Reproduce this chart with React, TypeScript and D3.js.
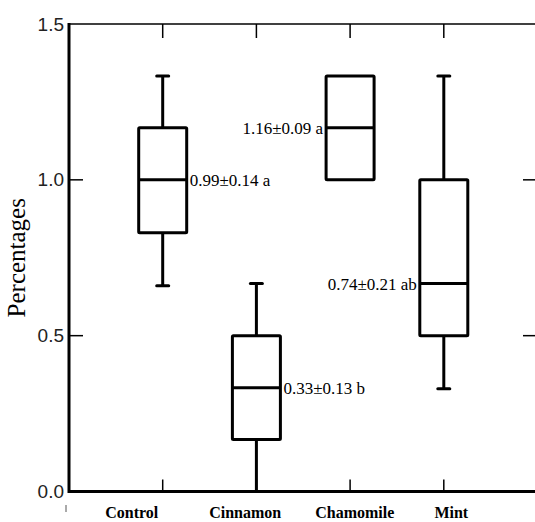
import React from "react";
import * as d3 from "d3";

const categories = ["Control", "Cinnamon", "Chamomile", "Mint"];
const whiskerLow = [0.66, 0, 1.0, 0.33];
const q1 = [0.83, 0.167, 1.0, 0.5];
const median = [1.0, 0.333, 1.167, 0.667];
const q3 = [1.167, 0.5, 1.333, 1.0];
const whiskerHigh = [1.333, 0.667, 1.333, 1.333];
const statLabels = ["0.99±0.14 a", "0.33±0.13 b", "1.16±0.09 a", "0.74±0.21 ab"];
const statSide = ["right", "right", "left", "left"];
// category label centres, in x-axis units (they sit a bit off the ticks in the original)
const catLabelPos = [0.67, 1.88, 3.05, 4.08];
const yTicks = [0, 0.5, 1.0, 1.5];

const W = 535;
const H = 522;

const App = () => {
  const x = d3.scaleLinear().domain([0, 5]).range([69, 537.5]);
  const y = d3.scaleLinear().domain([0, 1.5]).range([491.5, 24]);
  const boxW = 48;
  const capW = 12;
  const serif = "'Liberation Serif', 'Times New Roman', serif";
  const sans = "'Liberation Sans', Arial, sans-serif";

  return (
    <svg
      width={W}
      height={H}
      style={{ position: "absolute", left: 0, top: 0, background: "#fff" }}
    >
      {/* frame */}
      <line x1={x(0)} x2={x(5)} y1={y(1.5)} y2={y(1.5)} stroke="#000" strokeWidth={1.5} />
      <line x1={x(0)} x2={x(0)} y1={y(1.5) - 1} y2={y(0) + 1.5} stroke="#000" strokeWidth={3} />
      <line x1={x(0)} x2={x(5)} y1={y(0)} y2={y(0)} stroke="#000" strokeWidth={3} />

      {/* y ticks left + right */}
      {yTicks.map(t => (
        <g key={"yt" + t}>
          {t > 0 && t < 1.5 && (
            <>
              <line x1={x(0)} x2={x(0) + 14} y1={y(t)} y2={y(t)} stroke="#000" strokeWidth={1.5} />
              <line x1={523} x2={x(5)} y1={y(t)} y2={y(t)} stroke="#000" strokeWidth={1.5} />
            </>
          )}
          <text
            x={x(0) - 5}
            y={y(t)}
            dy="0.35em"
            textAnchor="end"
            fontFamily={sans}
            fontSize={19}
            fill="#222"
          >
            {d3.format(".1f")(t)}
          </text>
        </g>
      ))}

      {/* x ticks top + bottom */}
      {categories.map((c, i) => (
        <g key={"xt" + c}>
          <line x1={x(i + 1)} x2={x(i + 1)} y1={y(1.5)} y2={y(1.5) + 14} stroke="#000" strokeWidth={1.5} />
          <line x1={x(i + 1)} x2={x(i + 1)} y1={y(0)} y2={y(0) - 12} stroke="#000" strokeWidth={1.5} />
          <text
            x={x(catLabelPos[i])}
            y={518}
            textAnchor="middle"
            fontFamily={serif}
            fontWeight="bold"
            fontSize={16}
            fill="#000"
          >
            {c}
          </text>
        </g>
      ))}

      {/* little stray mark under the origin */}
      <line x1={66} x2={66} y1={505} y2={512} stroke="#555" strokeWidth={1} />

      {/* boxes */}
      {categories.map((c, i) => {
        const cx = x(i + 1);
        return (
          <g key={"box" + c} stroke="#000" strokeWidth={3} fill="none">
            {whiskerHigh[i] > q3[i] && (
              <>
                <line x1={cx} x2={cx} y1={y(q3[i])} y2={y(whiskerHigh[i])} />
                <line x1={cx - capW / 2} x2={cx + capW / 2} y1={y(whiskerHigh[i])} y2={y(whiskerHigh[i])} strokeLinecap="round" />
              </>
            )}
            {whiskerLow[i] < q1[i] && (
              <>
                <line x1={cx} x2={cx} y1={y(q1[i])} y2={y(whiskerLow[i])} />
                <line x1={cx - capW / 2} x2={cx + capW / 2} y1={y(whiskerLow[i])} y2={y(whiskerLow[i])} strokeLinecap="round" />
              </>
            )}
            <rect
              x={cx - boxW / 2}
              y={y(q3[i])}
              width={boxW}
              height={y(q1[i]) - y(q3[i])}
              fill="#fff"
              rx={1}
            />
            <line x1={cx - boxW / 2} x2={cx + boxW / 2} y1={y(median[i])} y2={y(median[i])} />
            <text
              x={statSide[i] === "right" ? cx + boxW / 2 + 3 : cx - boxW / 2 - 3}
              y={y(median[i])}
              dy="0.35em"
              textAnchor={statSide[i] === "right" ? "start" : "end"}
              fontFamily={serif}
              fontSize={17}
              fill="#000"
              stroke="none"
            >
              {statLabels[i]}
            </text>
          </g>
        );
      })}

      {/* y title */}
      <text
        transform={`translate(25, ${y(0.75)}) rotate(-90)`}
        textAnchor="middle"
        fontFamily={serif}
        fontSize={25}
        fill="#000"
      >
        Percentages
      </text>
    </svg>
  );
};

export default App;
